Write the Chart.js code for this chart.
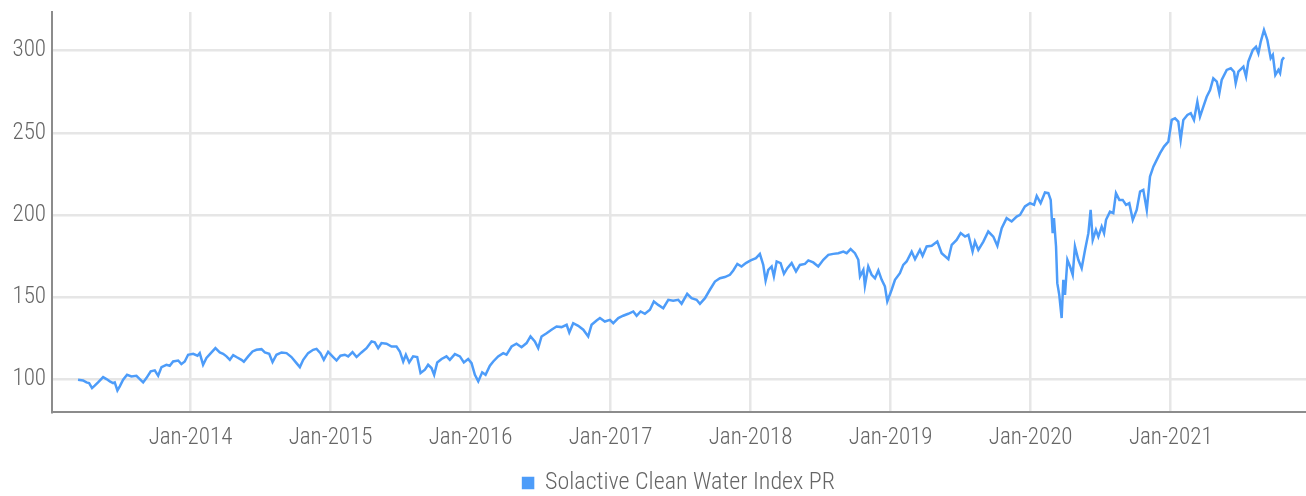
<!DOCTYPE html>
<html>
<head>
<meta charset="utf-8">
<script src="https://cdn.jsdelivr.net/npm/chart.js@4.4.1/dist/chart.umd.min.js"></script>
<style>
	html, body { margin: 0; padding: 0; background: #fff; }
	canvas { display: block; }
</style>
</head>
<body>
<canvas id="waterChart" width="1306" height="496"></canvas>
<script>
const seriesName = "Solactive Clean Water Index PR"

// observation dates as fractional years
const years = [
	2013.197, 2013.233, 2013.257, 2013.276, 2013.297, 2013.316, 2013.340, 2013.376, 2013.400, 2013.424,
	2013.447, 2013.459, 2013.478, 2013.495, 2013.519, 2013.547, 2013.578, 2013.614, 2013.638, 2013.662,
	2013.685, 2013.716, 2013.745, 2013.769, 2013.793, 2013.828, 2013.852, 2013.876, 2013.912, 2013.935,
	2013.959, 2013.983, 2014.019, 2014.050, 2014.066, 2014.090, 2014.114, 2014.150, 2014.178, 2014.209,
	2014.233, 2014.257, 2014.281, 2014.305, 2014.328, 2014.364, 2014.381, 2014.412, 2014.443, 2014.471,
	2014.507, 2014.531, 2014.562, 2014.586, 2014.614, 2014.650, 2014.686, 2014.721, 2014.757, 2014.781,
	2014.805, 2014.840, 2014.876, 2014.900, 2014.928, 2014.952, 2014.983, 2015.019, 2015.043, 2015.071,
	2015.102, 2015.126, 2015.157, 2015.186, 2015.221, 2015.257, 2015.293, 2015.316, 2015.340, 2015.364,
	2015.400, 2015.436, 2015.471, 2015.495, 2015.519, 2015.538, 2015.562, 2015.590, 2015.619, 2015.643,
	2015.674, 2015.697, 2015.721, 2015.740, 2015.762, 2015.793, 2015.828, 2015.852, 2015.888, 2015.924,
	2015.952, 2015.983, 2016.007, 2016.031, 2016.055, 2016.083, 2016.107, 2016.138, 2016.162, 2016.197,
	2016.233, 2016.257, 2016.293, 2016.328, 2016.364, 2016.400, 2016.428, 2016.459, 2016.483, 2016.507,
	2016.543, 2016.578, 2016.614, 2016.650, 2016.686, 2016.705, 2016.733, 2016.769, 2016.805, 2016.840,
	2016.864, 2016.900, 2016.924, 2016.959, 2016.995, 2017.019, 2017.055, 2017.090, 2017.126, 2017.162,
	2017.186, 2017.214, 2017.245, 2017.281, 2017.309, 2017.340, 2017.376, 2017.412, 2017.447, 2017.483,
	2017.507, 2017.547, 2017.578, 2017.614, 2017.638, 2017.674, 2017.709, 2017.745, 2017.781, 2017.816,
	2017.852, 2017.876, 2017.905, 2017.935, 2017.966, 2018.000, 2018.038, 2018.066, 2018.090, 2018.107,
	2018.126, 2018.150, 2018.166, 2018.186, 2018.214, 2018.238, 2018.262, 2018.293, 2018.324, 2018.352,
	2018.388, 2018.412, 2018.447, 2018.483, 2018.519, 2018.555, 2018.590, 2018.626, 2018.662, 2018.686,
	2018.714, 2018.745, 2018.769, 2018.781, 2018.805, 2018.816, 2018.840, 2018.864, 2018.888, 2018.912,
	2018.936, 2018.959, 2018.976, 2019.007, 2019.031, 2019.066, 2019.090, 2019.114, 2019.150, 2019.174,
	2019.209, 2019.228, 2019.257, 2019.293, 2019.333, 2019.364, 2019.412, 2019.436, 2019.471, 2019.500,
	2019.531, 2019.555, 2019.585, 2019.602, 2019.626, 2019.662, 2019.697, 2019.733, 2019.762, 2019.793,
	2019.828, 2019.864, 2019.900, 2019.924, 2019.959, 2019.995, 2020.024, 2020.043, 2020.071, 2020.102,
	2020.126, 2020.143, 2020.157, 2020.166, 2020.181, 2020.190, 2020.204, 2020.221, 2020.233, 2020.245,
	2020.262, 2020.281, 2020.300, 2020.316, 2020.340, 2020.364, 2020.388, 2020.412, 2020.428, 2020.443,
	2020.466, 2020.483, 2020.507, 2020.524, 2020.538, 2020.566, 2020.590, 2020.609, 2020.633, 2020.657,
	2020.681, 2020.704, 2020.729, 2020.757, 2020.781, 2020.804, 2020.829, 2020.852, 2020.876, 2020.900,
	2020.924, 2020.952, 2020.983, 2021.007, 2021.031, 2021.054, 2021.071, 2021.090, 2021.119, 2021.143,
	2021.166, 2021.190, 2021.209, 2021.233, 2021.257, 2021.281, 2021.304, 2021.329, 2021.347, 2021.364,
	2021.400, 2021.429, 2021.452, 2021.464, 2021.483, 2021.519, 2021.538, 2021.554, 2021.586, 2021.609,
	2021.626, 2021.643, 2021.666, 2021.690, 2021.714, 2021.729, 2021.747, 2021.769, 2021.781, 2021.795,
	2021.809
]

// index level (price return, start = 100)
const levels = [
	100.0, 99.6, 98.4, 98.0, 94.9, 96.4, 98.4, 101.6, 100.4, 99.0,
	98.0, 98.4, 93.5, 96.0, 100.0, 103.0, 102.0, 102.4, 100.4, 98.4,
	101.0, 105.1, 105.7, 102.4, 107.7, 109.1, 108.5, 111.1, 111.7, 109.5,
	111.1, 115.2, 115.8, 114.6, 116.2, 109.1, 113.2, 116.6, 119.2, 116.6,
	115.8, 114.2, 112.1, 115.0, 113.8, 112.1, 110.9, 114.2, 117.2, 118.2,
	118.6, 116.6, 115.8, 110.7, 115.2, 116.6, 116.2, 113.8, 110.1, 107.7,
	112.1, 116.2, 118.2, 118.8, 116.2, 112.1, 117.0, 113.8, 111.7, 114.6,
	115.2, 114.2, 116.8, 113.8, 116.6, 119.2, 123.3, 122.7, 119.2, 122.3,
	121.9, 120.2, 120.2, 117.2, 111.1, 115.2, 110.5, 114.2, 113.8, 104.1,
	106.1, 109.1, 107.1, 103.0, 110.5, 112.6, 114.2, 112.1, 115.6, 114.2,
	110.5, 112.6, 110.1, 103.0, 99.0, 104.5, 103.0, 108.5, 111.1, 114.2,
	116.2, 115.2, 120.2, 121.9, 119.8, 122.3, 126.3, 123.3, 119.2, 126.3,
	128.3, 130.4, 132.4, 132.0, 133.4, 128.7, 134.4, 132.8, 130.4, 126.3,
	133.4, 136.0, 137.5, 135.4, 136.4, 134.4, 137.5, 138.9, 140.1, 141.5,
	138.9, 141.5, 140.1, 142.5, 147.6, 145.5, 143.5, 148.6, 148.0, 148.6,
	146.2, 152.2, 149.6, 148.6, 146.2, 149.6, 154.7, 159.7, 161.7, 162.4,
	163.8, 166.4, 170.4, 168.8, 170.9, 172.5, 173.9, 176.5, 169.8, 160.3,
	166.8, 168.8, 162.8, 171.9, 170.9, 164.4, 167.8, 170.9, 165.8, 169.8,
	170.4, 172.5, 171.3, 168.8, 172.9, 175.9, 176.5, 176.9, 177.9, 176.9,
	179.4, 176.9, 172.9, 162.8, 166.8, 157.1, 168.8, 163.8, 161.7, 166.4,
	160.7, 156.7, 147.6, 154.7, 160.7, 164.8, 169.8, 171.9, 177.9, 173.3,
	178.9, 175.3, 181.0, 181.4, 184.0, 176.9, 173.3, 182.0, 185.0, 189.1,
	187.0, 188.1, 177.9, 184.0, 178.9, 184.0, 190.1, 187.0, 181.4, 192.1,
	198.2, 196.2, 199.2, 200.2, 205.3, 207.3, 206.3, 211.7, 207.3, 213.8,
	213.4, 209.3, 189.1, 198.2, 181.0, 158.7, 151.6, 137.5, 160.7, 151.6,
	172.9, 168.8, 163.8, 181.0, 172.9, 167.8, 178.9, 189.1, 203.2, 185.0,
	191.1, 187.0, 193.1, 189.1, 197.2, 202.2, 201.2, 213.4, 209.3, 209.3,
	206.3, 207.3, 197.2, 203.2, 214.4, 215.4, 203.2, 223.5, 229.5, 233.6,
	237.7, 241.7, 244.7, 257.9, 258.9, 256.9, 245.8, 257.9, 260.9, 262.0,
	257.9, 269.0, 259.9, 266.0, 272.0, 276.1, 283.2, 281.2, 274.1, 282.2,
	288.3, 289.3, 287.2, 280.2, 287.2, 290.3, 284.2, 293.3, 300.4, 302.4,
	298.4, 305.5, 312.6, 306.5, 295.4, 297.4, 285.2, 288.3, 286.3, 294.3,
	296.0
]

const tickYears = [2014, 2015, 2016, 2017, 2018, 2019, 2020, 2021]
const tickLabels = ["Jan-2014", "Jan-2015", "Jan-2016", "Jan-2017", "Jan-2018", "Jan-2019", "Jan-2020", "Jan-2021"]
const levelTicks = [100, 150, 200, 250, 300]

const lineColor = "#4d9cf9"
const labelFont = { family: "'Roboto Condensed', 'Open Sans', sans-serif", size: 23, weight: 300 }
const legendFont = { family: "'Roboto Condensed', 'Open Sans', sans-serif", size: 24, weight: 300 }
const labelColor = "#666666"
const gridColor = "#e6e6e6"
const axisColor = "#8c8c8c"

const waterChart = new Chart(document.getElementById("waterChart"), {
	type: "line",
	data: {
		datasets: [{
			label: seriesName,
			data: years.map((x, i) => ({ x: x, y: levels[i] })),
			borderColor: lineColor,
			backgroundColor: lineColor,
			borderWidth: 2.5,
			pointRadius: 0,
			tension: 0
		}]
	},
	options: {
		responsive: false,
		animation: false,
		layout: { padding: { top: 12, left: 0, right: 0, bottom: 0 } },
		scales: {
			x: {
				type: "linear",
				min: 2013.011,
				max: 2021.966,
				afterBuildTicks: scale => { scale.ticks = tickYears.map(v => ({ value: v })) },
				afterFit: scale => { scale.height = 54; scale.paddingLeft = 0; scale.paddingRight = 0 },
				ticks: {
					autoSkip: false,
					maxRotation: 0,
					padding: 12,
					font: labelFont,
					color: labelColor,
					callback: value => tickLabels[tickYears.indexOf(value)]
				},
				grid: { color: gridColor, lineWidth: 2.5, drawTicks: false },
				border: { color: axisColor, width: 2 }
			},
			y: {
				min: 80.4,
				max: 323.5,
				afterBuildTicks: scale => { scale.ticks = levelTicks.map(v => ({ value: v })) },
				afterFit: scale => { scale.width = 52; scale.paddingTop = 0; scale.paddingBottom = 0 },
				ticks: { padding: 6, font: labelFont, color: labelColor },
				grid: { color: gridColor, lineWidth: 2.5, drawTicks: false },
				border: { color: axisColor, width: 2 }
			}
		},
		plugins: {
			legend: {
				position: "bottom",
				fullSize: false,
				maxHeight: 30,
				labels: { boxWidth: 10, boxHeight: 10, padding: 5, font: legendFont, color: labelColor }
			},
			tooltip: { enabled: false }
		}
	}
})
</script>
</body>
</html>
